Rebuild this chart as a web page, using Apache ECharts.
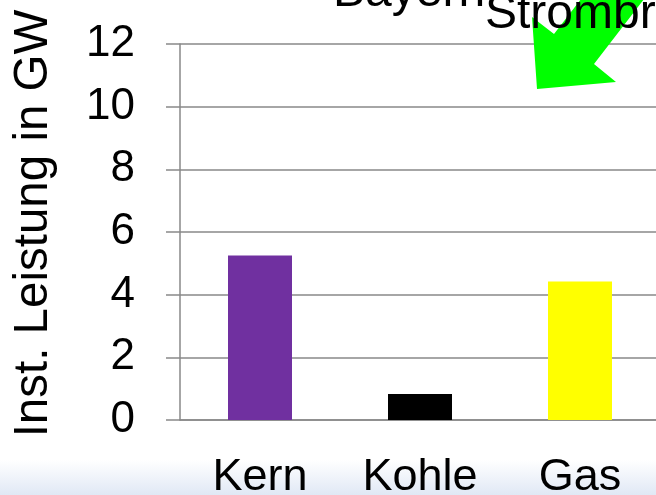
<!DOCTYPE html>
<html>
<head>
<meta charset="utf-8">
<script src="https://cdn.jsdelivr.net/npm/echarts@6/dist/echarts.min.js"></script>
<style>
  html, body { margin: 0; padding: 0; background: #fff; }
  #chart { width: 656px; height: 495px; }
</style>
</head>
<body>
<div id="chart"></div>
<script>
const categories = ['Kern', 'Kohle', 'Gas'];
const values = [5.25, 0.83, 4.42];
const barColors = ['#7030a0', '#000000', '#ffff00'];
const yTicks = [0, 2, 4, 6, 8, 10, 12];

const FONT = '"Liberation Sans", Arial, sans-serif';
const gridColor = '#898989';

const chart = echarts.init(document.getElementById('chart'));

chart.setOption({
  backgroundColor: 'transparent',
  animation: false,
  // plot runs a bit past the right edge, like the cropped slide
  grid: { left: 180, top: 44, width: 480, bottom: 75, outerBoundsMode: 'none' },
  graphic: [
    {
      type: 'rect', z: -10, silent: true,
      shape: { x: 0, y: 460, width: 656, height: 35 },
      style: {
        fill: new echarts.graphic.LinearGradient(0, 0, 0, 1, [
          { offset: 0, color: 'rgba(255,255,255,1)' },
          { offset: 1, color: '#e0e8f5' },
        ]),
      },
    },
    {
      type: 'polygon', z: 100, silent: true,
      shape: { points: [[588, -10], [554, 34], [532, 17], [537, 89], [616, 82], [594, 64], [651, -10]] },
      style: { fill: '#00ff00' },
    },
    {
      type: 'text', z: 101, left: 333, top: -31,
      style: { text: 'Bayern', font: '48px ' + FONT, fill: '#000' },
    },
    {
      type: 'text', z: 101, left: 485, top: -9,
      style: { text: 'Strombrücke', font: '48px ' + FONT, fill: '#000' },
    },
  ],
  xAxis: {
    type: 'category',
    data: categories,
    axisLine: { lineStyle: { color: gridColor, width: 1.5 } },
    axisTick: { length: 13, lineStyle: { color: gridColor, width: 1.5 } },
    axisLabel: { color: '#000', fontSize: 45, fontFamily: FONT, margin: 35 },
  },
  yAxis: {
    type: 'value',
    min: 0,
    max: 12,
    interval: 2,
    name: 'Inst. Leistung in GW',
    nameLocation: 'middle',
    nameGap: 122,
    nameTextStyle: { color: '#000', fontSize: 47.5, fontFamily: FONT, padding: [0, 0, 0, 17] },
    axisLine: { show: true, lineStyle: { color: gridColor, width: 1.5 } },
    axisTick: { show: true, length: 14, lineStyle: { color: gridColor, width: 1.5 } },
    splitLine: { lineStyle: { color: gridColor, width: 1.5 } },
    axisLabel: {
      color: '#000', fontSize: 44, fontFamily: FONT, margin: 45,
      formatter: (v) => (yTicks.includes(v) ? String(v) : ''),
    },
  },
  series: [
    {
      type: 'bar',
      barWidth: '40%',
      data: values.map((v, i) => ({ value: v, itemStyle: { color: barColors[i] } })),
    },
  ],
});
</script>
</body>
</html>
